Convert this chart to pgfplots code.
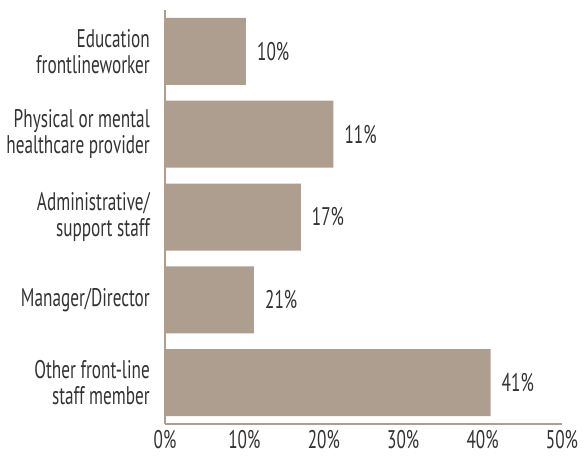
\documentclass[border=0pt]{standalone}
\usepackage{fontspec}
\setmainfont{PT Sans}[FakeStretch=0.675]
\usepackage{pgfplots}
\pgfplotsset{compat=1.18}
\definecolor{barc}{HTML}{AD9E8F}
\definecolor{txt}{HTML}{333333}
\begin{document}
\fontsize{25.5}{25.5}\selectfont
\begin{tikzpicture}
\useasboundingbox (-165pt,-34pt) rectangle (423pt,424pt);
\begin{axis}[
  at={(0pt,0pt)}, anchor=south west,
  scale only axis,
  width=397pt, height=414pt,
  xbar, bar width=67pt,
  xmin=0, xmax=50,
  ymin=-0.5, ymax=4.5,
  xtick={0,10,20,30,40,50},
  xticklabel={\pgfmathprintnumber{\tick}\%},
  /pgf/number format/assume math mode=true,
  ytick={0,1,2,3,4},
  yticklabels={{Other front-line\\staff member},{Manager/Director},{Administrative/\\support staff},{Physical or mental\\healthcare provider},{Education\\frontlineworker}},
  yticklabel style={align=right, text=txt, inner sep=0pt, xshift=-15pt},
  xticklabel style={text=txt, inner sep=0pt, yshift=-6pt},
  major tick length=0pt,
  axis x line*=bottom, axis y line*=left,
  axis line style={draw=barc, line width=1.5pt, -},
  point meta=explicit symbolic,
  nodes near coords={\pgfplotspointmeta},
  nodes near coords style={anchor=west, text=txt, inner sep=0pt, xshift=11pt},
  clip=false,
]
\addplot[fill=barc, draw=none] coordinates {
  (41,0)[41\%]
  (11.2,1)[21\%]
  (17.1,2)[17\%]
  (21.2,3)[11\%]
  (10.2,4)[10\%]
};
\end{axis}
\end{tikzpicture}
\end{document}
